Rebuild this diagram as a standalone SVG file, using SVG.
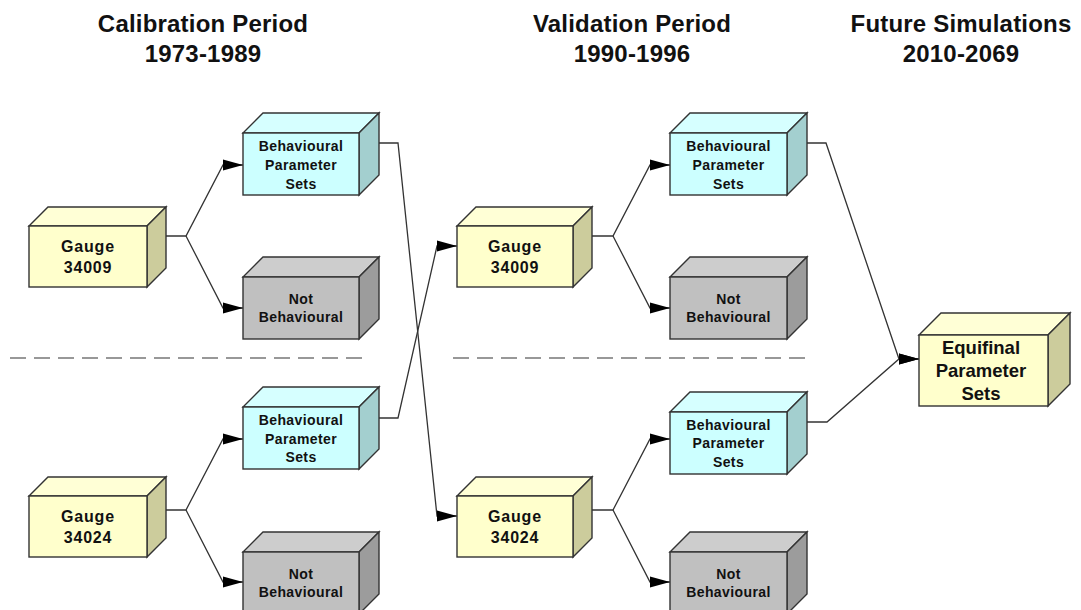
<svg xmlns="http://www.w3.org/2000/svg" width="1081" height="610" viewBox="0 0 1081 610">
<style>
  .edge { stroke: #333; stroke-width: 1.3; fill: none; }
  .box path, .box rect { stroke: #333; stroke-width: 1.4; stroke-linejoin: miter; }
  .g .front { fill: #FFFFCC; } .g .top { fill: #FFFFD6; } .g .side { fill: #CCCC9C; }
  .b .front { fill: #CCFFFF; } .b .top { fill: #D6FFFF; } .b .side { fill: #A3CFCF; }
  .n .front { fill: #C0C0C0; } .n .top { fill: #CDCDCD; } .n .side { fill: #9C9C9C; }
  text { font-family: "Liberation Sans", Arial, sans-serif; font-weight: bold; fill: #111; text-anchor: middle; }
  .title { font-size: 24px; letter-spacing: 0.2px; }
  .gt { font-size: 16px; letter-spacing: 0.8px; }
  .bt { font-size: 14px; letter-spacing: 0.4px; }
  .et { font-size: 18.5px; }
  .dash { stroke: #777; stroke-width: 1.5; stroke-dasharray: 16 8; fill: none; }
</style>
<defs>
  <marker id="arr" markerUnits="userSpaceOnUse" markerWidth="20" markerHeight="12" refX="20" refY="6" orient="auto" viewBox="0 0 20 12">
    <path d="M0,0.5 L20,6 L0,11.5 z" fill="#000"/>
  </marker>
</defs>
<rect width="1081" height="610" fill="#fff"/>

<g id="titles">
  <text class="title" x="203" y="31.5">Calibration Period</text>
  <text class="title" x="203" y="62">1973-1989</text>
  <text class="title" x="632" y="31.5">Validation Period</text>
  <text class="title" x="632" y="62">1990-1996</text>
  <text class="title" x="961" y="31.5">Future Simulations</text>
  <text class="title" x="961" y="62">2010-2069</text>
</g>

<g id="separators">
  <line class="dash" x1="10" y1="358" x2="363" y2="358"/>
  <line class="dash" x1="453" y1="358" x2="806" y2="358"/>
</g>

<g id="connectors">
  <path class="edge" d="M147,236 H186 L223,165 H243" marker-end="url(#arr)"/>
  <path class="edge" d="M186,236 L223,308 H243" marker-end="url(#arr)"/>
  <path class="edge" d="M147,510 H186 L223,439 H243" marker-end="url(#arr)"/>
  <path class="edge" d="M186,510 L223,582 H243" marker-end="url(#arr)"/>
  <path class="edge" d="M573,236 H613 L650,165 H670" marker-end="url(#arr)"/>
  <path class="edge" d="M613,236 L650,308 H670" marker-end="url(#arr)"/>
  <path class="edge" d="M573,510 H613 L650,439 H670" marker-end="url(#arr)"/>
  <path class="edge" d="M613,510 L650,582 H670" marker-end="url(#arr)"/>
  <path class="edge" d="M379,143 H398 L437,516 H457" marker-end="url(#arr)"/>
  <path class="edge" d="M379,418 H398 L437,246 H457" marker-end="url(#arr)"/>
  <path class="edge" d="M807,143 H826 L899,359 H919" marker-end="url(#arr)"/>
  <path class="edge" d="M807,422 H827 L899,359 H919" marker-end="url(#arr)"/>
</g>

<!-- Gauge 34009 calibration -->
<g id="gauge-34009-cal" class="box g">
  <path class="top" d="M29,226 L48,207 H166 L147,226 Z"/>
  <path class="side" d="M147,226 L166,207 V268 L147,287 Z"/>
  <rect class="front" x="29" y="226" width="118" height="61"/>
  <text class="gt" x="88" y="252">Gauge</text>
  <text class="gt" x="88" y="272.5">34009</text>
</g>

<g id="bps-34009-cal" class="box b">
  <path class="top" d="M243,133 L263,113 H379 L359,133 Z"/>
  <path class="side" d="M359,133 L379,113 V175 L359,195 Z"/>
  <rect class="front" x="243" y="133" width="116" height="62"/>
  <text class="bt" x="301" y="150.5">Behavioural</text>
  <text class="bt" x="301" y="169.5">Parameter</text>
  <text class="bt" x="301" y="188.5">Sets</text>
</g>

<g id="nb-34009-cal" class="box n">
  <path class="top" d="M243,277 L263,257 H379 L359,277 Z"/>
  <path class="side" d="M359,277 L379,257 V319 L359,339 Z"/>
  <rect class="front" x="243" y="277" width="116" height="62"/>
  <text class="bt" x="301" y="303.5">Not</text>
  <text class="bt" x="301" y="322">Behavioural</text>
</g>

<!-- Gauge 34024 calibration -->
<g id="gauge-34024-cal" class="box g">
  <path class="top" d="M29,496 L48,477 H166 L147,496 Z"/>
  <path class="side" d="M147,496 L166,477 V538 L147,557 Z"/>
  <rect class="front" x="29" y="496" width="118" height="61"/>
  <text class="gt" x="88" y="522">Gauge</text>
  <text class="gt" x="88" y="543">34024</text>
</g>

<g id="bps-34024-cal" class="box b">
  <path class="top" d="M243,407 L263,387 H379 L359,407 Z"/>
  <path class="side" d="M359,407 L379,387 V449 L359,469 Z"/>
  <rect class="front" x="243" y="407" width="116" height="62"/>
  <text class="bt" x="301" y="425">Behavioural</text>
  <text class="bt" x="301" y="443.5">Parameter</text>
  <text class="bt" x="301" y="462">Sets</text>
</g>

<g id="nb-34024-cal" class="box n">
  <path class="top" d="M243,552 L263,532 H379 L359,552 Z"/>
  <path class="side" d="M359,552 L379,532 V594 L359,614 Z"/>
  <rect class="front" x="243" y="552" width="116" height="62"/>
  <text class="bt" x="301" y="578.5">Not</text>
  <text class="bt" x="301" y="597">Behavioural</text>
</g>

<!-- Validation column -->
<g id="gauge-34009-val" class="box g">
  <path class="top" d="M457,226 L476,207 H592 L573,226 Z"/>
  <path class="side" d="M573,226 L592,207 V268 L573,287 Z"/>
  <rect class="front" x="457" y="226" width="116" height="61"/>
  <text class="gt" x="515" y="252">Gauge</text>
  <text class="gt" x="515" y="272.5">34009</text>
</g>

<g id="bps-34009-val" class="box b">
  <path class="top" d="M670,133 L690,113 H807 L787,133 Z"/>
  <path class="side" d="M787,133 L807,113 V175 L787,195 Z"/>
  <rect class="front" x="670" y="133" width="117" height="62"/>
  <text class="bt" x="728.5" y="150.5">Behavioural</text>
  <text class="bt" x="728.5" y="169.5">Parameter</text>
  <text class="bt" x="728.5" y="188.5">Sets</text>
</g>

<g id="nb-34009-val" class="box n">
  <path class="top" d="M670,277 L690,257 H807 L787,277 Z"/>
  <path class="side" d="M787,277 L807,257 V319 L787,339 Z"/>
  <rect class="front" x="670" y="277" width="117" height="62"/>
  <text class="bt" x="728.5" y="303.5">Not</text>
  <text class="bt" x="728.5" y="322">Behavioural</text>
</g>

<g id="gauge-34024-val" class="box g">
  <path class="top" d="M457,496 L476,477 H592 L573,496 Z"/>
  <path class="side" d="M573,496 L592,477 V538 L573,557 Z"/>
  <rect class="front" x="457" y="496" width="116" height="61"/>
  <text class="gt" x="515" y="522">Gauge</text>
  <text class="gt" x="515" y="543">34024</text>
</g>

<g id="bps-34024-val" class="box b">
  <path class="top" d="M670,412 L690,392 H807 L787,412 Z"/>
  <path class="side" d="M787,412 L807,392 V454 L787,474 Z"/>
  <rect class="front" x="670" y="412" width="117" height="62"/>
  <text class="bt" x="728.5" y="429.5">Behavioural</text>
  <text class="bt" x="728.5" y="448">Parameter</text>
  <text class="bt" x="728.5" y="466.5">Sets</text>
</g>

<g id="nb-34024-val" class="box n">
  <path class="top" d="M670,552 L690,532 H807 L787,552 Z"/>
  <path class="side" d="M787,552 L807,532 V594 L787,614 Z"/>
  <rect class="front" x="670" y="552" width="117" height="62"/>
  <text class="bt" x="728.5" y="578.5">Not</text>
  <text class="bt" x="728.5" y="597">Behavioural</text>
</g>

<!-- Future -->
<g id="equifinal" class="box g">
  <path class="top" d="M919,335 L941,313 H1070 L1048,335 Z"/>
  <path class="side" d="M1048,335 L1070,313 V384 L1048,406 Z"/>
  <rect class="front" x="919" y="335" width="129" height="71"/>
  <text class="et" x="981" y="353.5">Equifinal</text>
  <text class="et" x="981" y="376.5">Parameter</text>
  <text class="et" x="981" y="399.5">Sets</text>
</g>
</svg>
